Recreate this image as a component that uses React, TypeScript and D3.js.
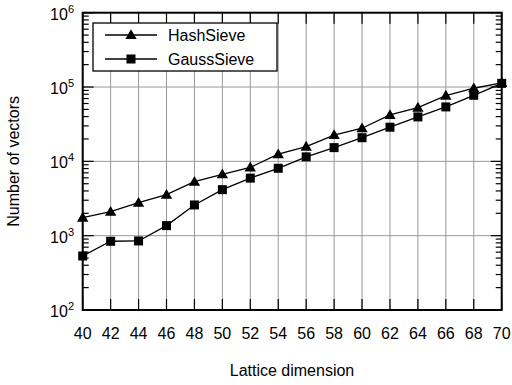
import React, { useRef, useEffect } from "react";
import * as d3 from "d3";

const dimensions = [40, 42, 44, 46, 48, 50, 52, 54, 56, 58, 60, 62, 64, 66, 68, 70];
const hashSieve = [1750, 2100, 2780, 3560, 5330, 6700, 8300, 12500, 15800, 22600, 27900, 42100, 52800, 76600, 96300, 114000];
const gaussSieve = [533, 841, 849, 1365, 2590, 4160, 5950, 8070, 11500, 15300, 20800, 28800, 39600, 54000, 77400, 112000];
const yExponents = [2, 3, 4, 5, 6];
const seriesNames = ["HashSieve", "GaussSieve"];

const FONT = "'Liberation Sans', Arial, Helvetica, sans-serif";

export default function App() {
  const svgRef = useRef<SVGSVGElement>(null);

  useEffect(() => {
    if (!svgRef.current) return;
    const width = 512;
    const height = 385;
    const left = 82.7;
    const right = 501.7;
    const top = 12.7;
    const bottom = 310;

    d3.select(svgRef.current).selectAll("*").remove();
    const svg = d3.select(svgRef.current).attr("width", width).attr("height", height);

    const x = d3.scaleLinear().domain([40, 70]).range([left, right]);
    const y = d3.scaleLog().domain([1e2, 1e6]).range([bottom, top]);

    // grid
    const grid = svg.append("g").attr("stroke", "#999").attr("stroke-width", 1);
    grid
      .selectAll("line.v")
      .data(dimensions)
      .join("line")
      .attr("x1", (d) => x(d))
      .attr("x2", (d) => x(d))
      .attr("y1", top)
      .attr("y2", bottom);
    grid
      .selectAll("line.h")
      .data(yExponents)
      .join("line")
      .attr("x1", left)
      .attr("x2", right)
      .attr("y1", (e) => y(Math.pow(10, e)))
      .attr("y2", (e) => y(Math.pow(10, e)));

    // ticks
    const ticks = svg.append("g").attr("stroke", "#000").attr("stroke-width", 1.2);
    dimensions.forEach((d) => {
      ticks.append("line").attr("x1", x(d)).attr("x2", x(d)).attr("y1", bottom).attr("y2", bottom - 11);
      ticks.append("line").attr("x1", x(d)).attr("x2", x(d)).attr("y1", top).attr("y2", top + 11);
    });
    const minor: number[] = [];
    for (let e = 2; e < 6; e++) {
      for (let m = 2; m <= 9; m++) minor.push(m * Math.pow(10, e));
    }
    yExponents.forEach((e) => {
      const yy = y(Math.pow(10, e));
      ticks.append("line").attr("x1", left).attr("x2", left + 11).attr("y1", yy).attr("y2", yy);
      ticks.append("line").attr("x1", right).attr("x2", right - 11).attr("y1", yy).attr("y2", yy);
    });
    minor.forEach((v) => {
      const yy = y(v);
      ticks.append("line").attr("x1", left).attr("x2", left + 6).attr("y1", yy).attr("y2", yy);
      ticks.append("line").attr("x1", right).attr("x2", right - 6).attr("y1", yy).attr("y2", yy);
    });

    // frame
    svg
      .append("rect")
      .attr("x", left)
      .attr("y", top)
      .attr("width", right - left)
      .attr("height", bottom - top)
      .attr("fill", "none")
      .attr("stroke", "#000")
      .attr("stroke-width", 2);

    // tick labels
    svg
      .append("g")
      .selectAll("text")
      .data(dimensions)
      .join("text")
      .attr("x", (d) => x(d))
      .attr("y", 339)
      .attr("text-anchor", "middle")
      .attr("font-family", FONT)
      .attr("font-size", 16)
      .attr("fill", "#000")
      .text((d) => d);

    const yl = svg
      .append("g")
      .selectAll("text")
      .data(yExponents)
      .join("text")
      .attr("x", 74)
      .attr("y", (e) => y(Math.pow(10, e)) + 7)
      .attr("text-anchor", "end")
      .attr("font-family", FONT)
      .attr("font-size", 16)
      .attr("fill", "#000");
    yl.append("tspan").text("10");
    yl.append("tspan").attr("dy", -7).attr("font-size", 11).text((e) => e);

    // axis titles
    svg
      .append("text")
      .attr("x", 292)
      .attr("y", 376)
      .attr("text-anchor", "middle")
      .attr("font-family", FONT)
      .attr("font-size", 16)
      .text("Lattice dimension");
    svg
      .append("text")
      .attr("transform", `translate(19,${(top + bottom) / 2}) rotate(-90)`)
      .attr("text-anchor", "middle")
      .attr("font-family", FONT)
      .attr("font-size", 16)
      .text("Number of vectors");

    // series
    const line = d3
      .line<number>()
      .x((_, i) => x(dimensions[i]))
      .y((v) => y(v));
    const tri = d3.symbol().type(d3.symbolTriangle).size(56);

    const drawMarker = (g: any, kind: number, cx: number, cy: number) => {
      if (kind === 0) {
        g.append("path").attr("d", tri()).attr("transform", `translate(${cx},${cy + 0.8})`).attr("fill", "#000");
      } else {
        g.append("rect").attr("x", cx - 4.5).attr("y", cy - 4.5).attr("width", 9).attr("height", 9).attr("fill", "#000");
      }
    };

    [hashSieve, gaussSieve].forEach((vals, k) => {
      svg
        .append("path")
        .attr("d", line(vals) || "")
        .attr("fill", "none")
        .attr("stroke", "#000")
        .attr("stroke-width", 1.3);
      const g = svg.append("g");
      vals.forEach((v, i) => drawMarker(g, k, x(dimensions[i]), y(v)));
    });

    // legend
    const lg = svg.append("g");
    lg.append("rect")
      .attr("x", 93)
      .attr("y", 23)
      .attr("width", 184)
      .attr("height", 48)
      .attr("fill", "#fff")
      .attr("stroke", "#000")
      .attr("stroke-width", 1.3);
    seriesNames.forEach((name, k) => {
      const yy = 35 + k * 24;
      lg.append("line").attr("x1", 105).attr("x2", 157).attr("y1", yy).attr("y2", yy).attr("stroke", "#000").attr("stroke-width", 1.3);
      drawMarker(lg, k, 131, yy);
      lg.append("text")
        .attr("x", 168)
        .attr("y", yy + 6)
        .attr("font-family", FONT)
        .attr("font-size", 16)
        .text(name);
    });
  }, []);

  return <svg ref={svgRef} style={{ position: "absolute", left: 0, top: 0 }}></svg>;
}
